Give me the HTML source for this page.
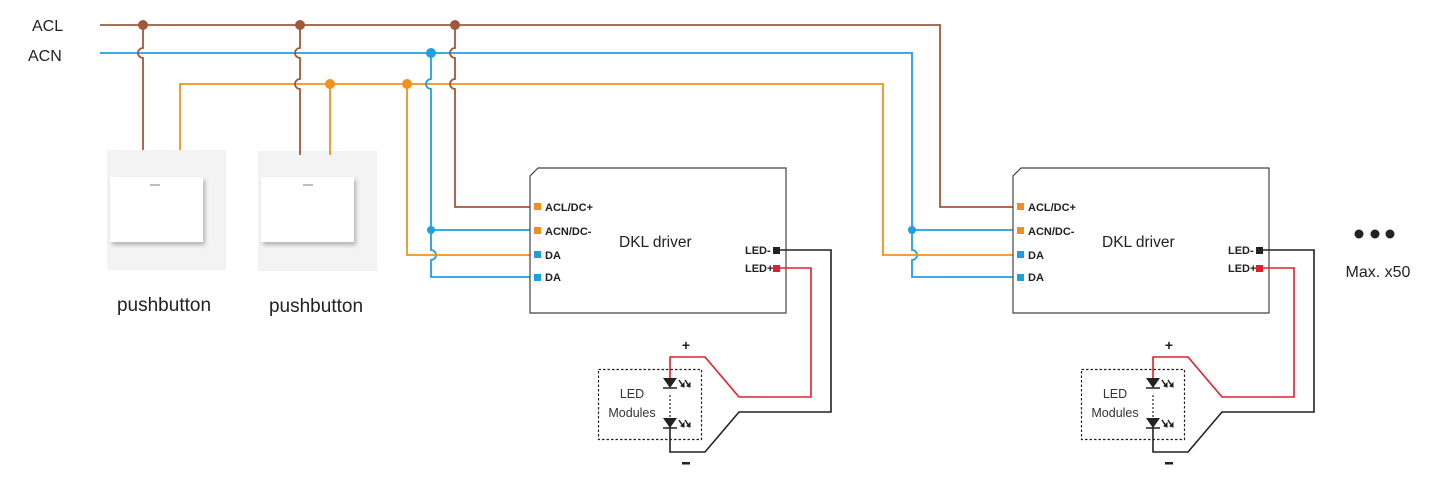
<!DOCTYPE html>
<html><head><meta charset="utf-8"><style>
body{margin:0;background:#fff;}
svg{display:block;font-family:"Liberation Sans",sans-serif;}
</style></head><body>
<svg width="1434" height="480" viewBox="0 0 1434 480" xmlns="http://www.w3.org/2000/svg">
<defs>
<filter id="sh" x="-10%" y="-10%" width="130%" height="130%"><feDropShadow dx="2" dy="3" stdDeviation="2" flood-color="#888" flood-opacity="0.6"/></filter>
<g id="led">
<path d="M-7,0 H7 L0,10 Z" fill="#222"/>
<line x1="-7" y1="10" x2="7" y2="10" stroke="#222" stroke-width="1.5"/>
<path d="M9,2 L13,8 M15,2 L19,8" stroke="#222" stroke-width="1.5" fill="none"/>
<path d="M11,8 L14,9 L14,5 Z M17,8 L20,9 L20,5 Z" fill="#222" stroke="#222" stroke-width="1"/>
</g>
<g id="drv">
<path d="M538,168 H786 V313 H530 V176 Z" fill="#fff" stroke="#444" stroke-width="1.2"/>
<rect x="534" y="203" width="7" height="7" fill="#f0901c"/>
<rect x="534" y="227" width="7" height="7" fill="#f0901c"/>
<rect x="534" y="251" width="7" height="7" fill="#1aa0e0"/>
<rect x="534" y="274" width="7" height="7" fill="#1aa0e0"/>
<text x="545" y="211" font-size="11" font-weight="bold" fill="#222">ACL/DC+</text>
<text x="545" y="235" font-size="11" font-weight="bold" fill="#222">ACN/DC-</text>
<text x="545" y="259" font-size="11" font-weight="bold" fill="#222">DA</text>
<text x="545" y="281" font-size="11" font-weight="bold" fill="#222">DA</text>
<text x="619" y="247" font-size="15.5" fill="#222">DKL driver</text>
<text x="745" y="254" font-size="11" font-weight="bold" fill="#222">LED-</text>
<text x="745" y="272" font-size="11" font-weight="bold" fill="#222">LED+</text>
<path d="M779,250 H831 V412 H739 L705,452 H670 V425" fill="none" stroke="#222" stroke-width="1.6"/>
<path d="M779,268 H811 V397 H739 L705,357 H670 V385" fill="none" stroke="#e0202f" stroke-width="1.6"/>
<rect x="773" y="247" width="7" height="7" fill="#222"/>
<rect x="773" y="265" width="7" height="7" fill="#e0202f"/>
<rect x="598.5" y="369.5" width="103" height="70" fill="none" stroke="#222" stroke-width="1.2" stroke-dasharray="2.5,2"/>
<line x1="670" y1="395" x2="670" y2="418" stroke="#222" stroke-width="1.2" stroke-dasharray="2,2"/>
<use href="#led" x="670" y="378"/>
<use href="#led" x="670" y="418"/>
<text x="632" y="398" font-size="12.5" fill="#333" text-anchor="middle">LED</text>
<text x="632" y="417" font-size="12.5" fill="#333" text-anchor="middle">Modules</text>
<text x="686" y="350" font-size="14" font-weight="bold" fill="#222" text-anchor="middle">+</text>
<rect x="682" y="462" width="8" height="2.5" fill="#222"/>
</g>
</defs>
<text x="32" y="31" font-size="16" fill="#222">ACL</text>
<text x="28" y="61" font-size="16" fill="#222">ACN</text>
<rect x="107" y="150" width="119" height="120" fill="#f3f3f3"/>
<rect x="110" y="177" width="93" height="65" fill="#fff" filter="url(#sh)"/>
<line x1="150" y1="185" x2="160" y2="185" stroke="#9ab" stroke-width="1.5"/>
<rect x="258" y="151" width="119" height="120" fill="#f3f3f3"/>
<rect x="261" y="177" width="93" height="65" fill="#fff" filter="url(#sh)"/>
<line x1="303" y1="185" x2="313" y2="185" stroke="#9ab" stroke-width="1.5"/>
<text x="164" y="311" font-size="19" fill="#222" text-anchor="middle">pushbutton</text>
<text x="316" y="312" font-size="19" fill="#222" text-anchor="middle">pushbutton</text>
<g fill="none" stroke-width="1.8">
<path d="M100,25 H940 V207 H1013" stroke="#a0573e"/>
<path d="M100,53 H912 V250 a5 5 0 0 1 0 10 V277 H1013" stroke="#1ea0e0"/>
<path d="M180,150 V84 H883 V255 H1013" stroke="#f0921e"/>
<path d="M912,230 H1013" stroke="#1ea0e0"/>
<path d="M143,25 V48 a5 5 0 0 0 0 10 V150" stroke="#a0573e"/>
<path d="M300,25 V48 a5 5 0 0 0 0 10 V79 a5 5 0 0 0 0 10 V155" stroke="#a0573e"/>
<path d="M330,84 V155" stroke="#f0921e"/>
<path d="M455,25 V48 a5 5 0 0 0 0 10 V79 a5 5 0 0 0 0 10 V207 H530" stroke="#a0573e"/>
<path d="M431,53 V79 a5 5 0 0 0 0 10 V250 a5 5 0 0 1 0 10 V277 H530" stroke="#1ea0e0"/>
<path d="M431,230 H530" stroke="#1ea0e0"/>
<path d="M407,84 V255 H530" stroke="#f0921e"/>
</g>
<g>
<circle cx="143" cy="25" r="5" fill="#a0573e"/>
<circle cx="300" cy="25" r="5" fill="#a0573e"/>
<circle cx="455" cy="25" r="5" fill="#a0573e"/>
<circle cx="431" cy="53" r="5" fill="#1ea0e0"/>
<circle cx="330" cy="84" r="5" fill="#f0921e"/>
<circle cx="407" cy="84" r="5" fill="#f0921e"/>
<circle cx="431" cy="230" r="4" fill="#1ea0e0"/>
<circle cx="912" cy="230" r="4" fill="#1ea0e0"/>
</g>
<use href="#drv"/>
<use href="#drv" x="483"/>
<circle cx="1359" cy="234" r="4.5" fill="#222"/>
<circle cx="1375" cy="234" r="4.5" fill="#222"/>
<circle cx="1390" cy="234" r="4.5" fill="#222"/>
<text x="1378" y="277" font-size="16" fill="#222" text-anchor="middle">Max. x50</text>
</svg>
</body></html>
